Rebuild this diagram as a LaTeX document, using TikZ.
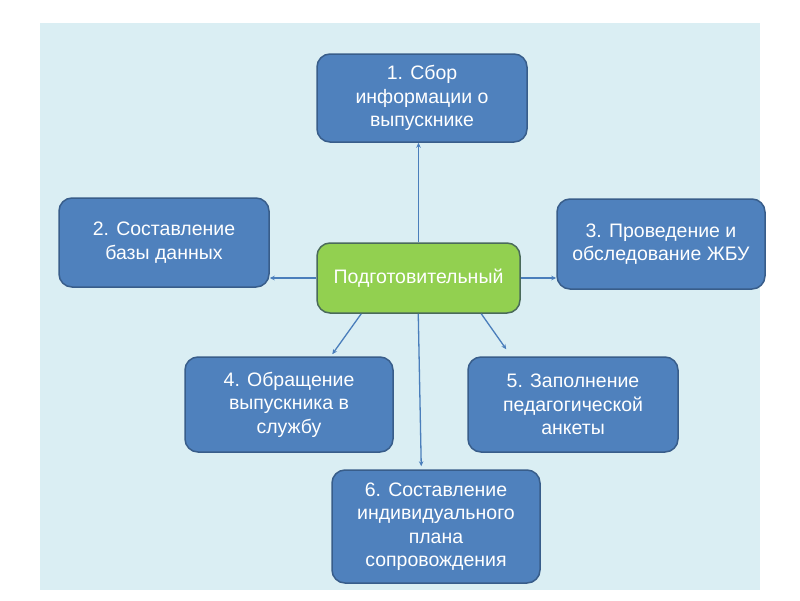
\documentclass[tikz,border=0pt]{standalone}
\usepackage{fontspec}
\setmainfont{Liberation Sans}
\usetikzlibrary{arrows.meta,calc}
\definecolor{bgc}{HTML}{DAEEF3}
\definecolor{boxfill}{HTML}{4F81BD}
\definecolor{boxline}{HTML}{385D8A}
\definecolor{greenfill}{HTML}{92D050}
\definecolor{greenline}{HTML}{4A6A5A}
\definecolor{arrc}{HTML}{4A7EBB}
\tikzset{
  x=1pt, y=1pt,
  bluebox/.style={draw=boxline, line width=1.5pt, fill=boxfill, rounded corners=13pt,
    rectangle, align=center, text=white, inner sep=0pt,
    font=\fontsize{19.5}{23.5}\selectfont},
  greenbox/.style={bluebox, draw=greenline, fill=greenfill},
  arr/.style={draw=arrc, line width=1.3pt, -{Stealth[length=5pt,width=4.5pt]}}
}
\begin{document}
\begin{tikzpicture}
\useasboundingbox (0,0) rectangle (800,-600);
\fill[bgc] (40,-23) rectangle (760,-590);

\node[bluebox, minimum width=210pt, minimum height=88pt] (b1) at (422,-98) {1. Сбор\\информации о\\выпускнике};
\node[bluebox, minimum width=210pt, minimum height=89pt] (b2) at (164,-242.5) {2. Составление\\базы данных};
\node[bluebox, minimum width=208pt, minimum height=90pt] (b3) at (661,-244) {3. Проведение и\\обследование ЖБУ};
\node[greenbox, minimum width=203pt, minimum height=70pt] (c) at (418.5,-278) {Подготовительный};
\node[bluebox, minimum width=208pt, minimum height=95pt] (b4) at (289,-404.5) {4. Обращение\\выпускника в\\службу};
\node[bluebox, minimum width=210pt, minimum height=95pt] (b5) at (573,-404.5) {5. Заполнение\\педагогической\\анкеты};
\node[bluebox, minimum width=208pt, minimum height=113pt] (b6) at (436,-526.5) {6. Составление\\индивидуального\\плана\\сопровождения};

\draw[arr] (c.north) -- (c.north |- b1.south);
\draw[arr] (c.west) -- (c.west -| b2.east);
\draw[arr] (c.east) -- (c.east -| b3.west);
\draw[arr] ($(c.south west)+(45,0)$) -- ($(b4.north west)+(148,2)$);
\draw[arr] ($(c.south west)+(165,0)$) -- ($(b5.north west)+(39,7)$);
\draw[arr] ($(c.south west)+(102,0)$) -- ($(b6.north west)+(90,3)$);
\end{tikzpicture}
\end{document}
